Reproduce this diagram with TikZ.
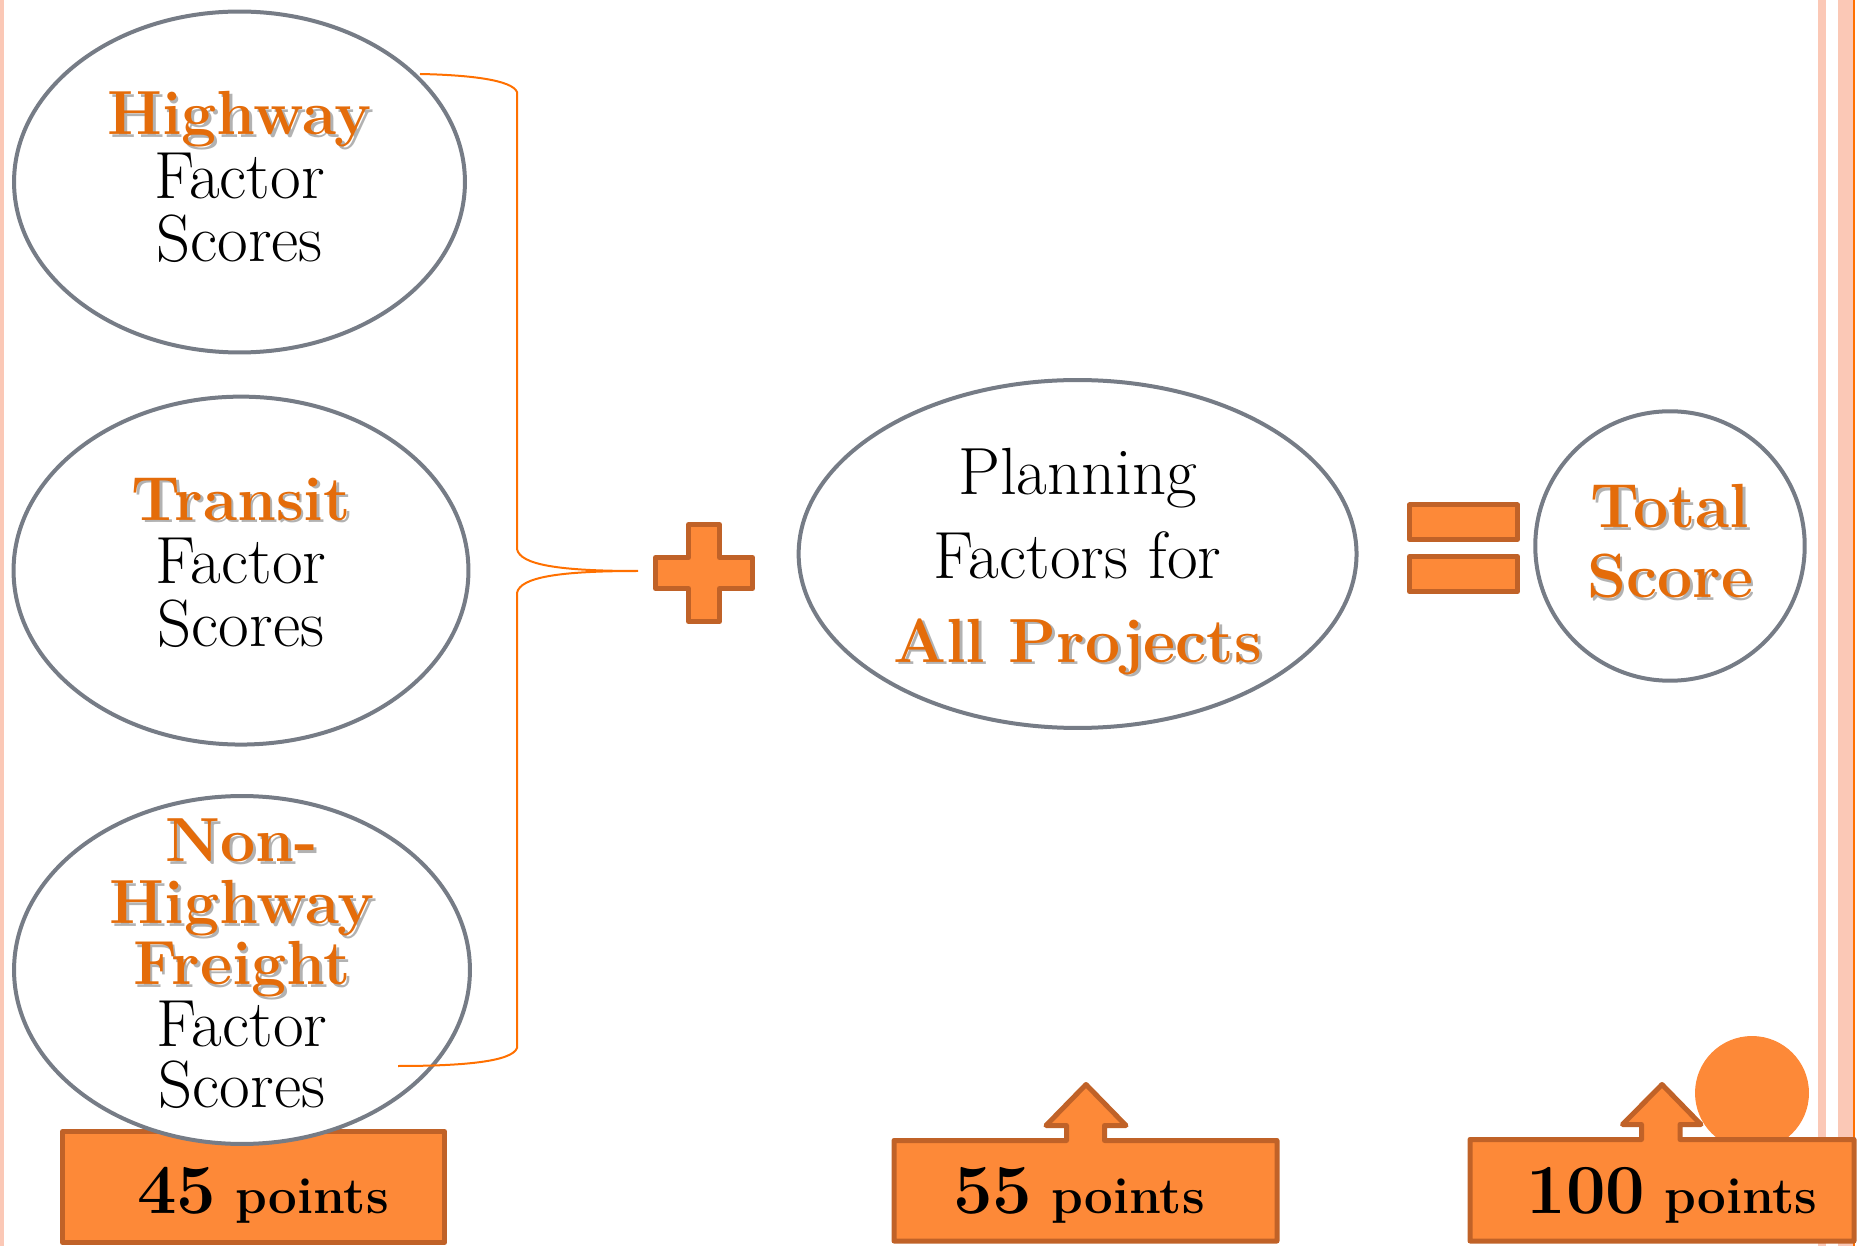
\documentclass[tikz,border=0pt]{standalone}
\usepackage{fontspec}
\usetikzlibrary{shapes.geometric}

\definecolor{hotorange}{RGB}{228,108,10}
\definecolor{boxorange}{RGB}{253,137,56}
\definecolor{boxedge}{RGB}{192,98,40}
\definecolor{bubbleedge}{RGB}{118,124,134}
\definecolor{stripe}{RGB}{251,200,182}
\definecolor{braceorange}{RGB}{255,112,0}

% bold orange word with a soft shadow
\newcommand{\hot}[1]{{\fontsize{35.5}{40}\selectfont\bfseries\rlap{\kern1.6pt\raisebox{-1.6pt}{\color{black!30}#1}}\color{hotorange}#1}}

\tikzset{
  bubble/.style={ellipse, draw=bubbleedge, line width=0.08cm, fill=white, inner sep=0pt},
  bubbletext/.style={align=center, inner sep=0pt},
  sign/.style={draw=boxedge, fill=boxorange, line width=0.1cm, line join=round},
  ptstext/.style={anchor=base, inner sep=0pt, font=\fontsize{29}{31}\selectfont\bfseries},
}

\begin{document}
\begin{tikzpicture}[x=0.02cm, y=-0.02cm]
    \useasboundingbox (0,0) rectangle (1864,1246);

    % Page stripes
    \fill[stripe] (0,0) rectangle (4,1246);
    \fill[stripe] (1818,0) rectangle (1826,1246);
    \fill[stripe] (1838,0) rectangle (1853,1246);
    \draw[braceorange, line width=0.04cm] (1854,0) -- (1854,1246);

    % 45 points box (behind the freight bubble)
    \draw[sign] (62.5,1131.5) rectangle (444.5,1242.5);

    % Bubbles
    \node[bubble, minimum width=9.02cm, minimum height=6.82cm] (hwy) at (239.5,182) {};
    \node[bubble, minimum width=9.1cm, minimum height=6.96cm] (transit) at (241,570.6) {};
    \node[bubble, minimum width=9.12cm, minimum height=6.96cm] (freight) at (242,970) {};
    \node[bubble, minimum width=11.16cm, minimum height=6.96cm] (planning) at (1077.6,554) {};
    \node[bubble, minimum width=5.39cm, minimum height=5.39cm] (total) at (1670,546) {};

    % Bubble texts
    \node[bubbletext, font=\fontsize{38}{36}\selectfont] (hwytext) at (hwy.center) [yshift=0.1cm]
        {\hot{Highway}\\Factor\\Scores};
    \node[bubbletext, font=\fontsize{38}{36}\selectfont] (transittext) at (transit.center) [yshift=0.16cm]
        {\hot{Transit}\\Factor\\Scores};
    \node[bubbletext, font=\fontsize{38}{35}\selectfont] (freighttext) at (freight.center) [yshift=0.12cm]
        {\hot{Non-}\\\hot{Highway}\\\hot{Freight}\\Factor\\Scores};
    \node[bubbletext, font=\fontsize{38}{47.6}\selectfont] (planningtext) at (planning.center) [yshift=-0.18cm]
        {Planning\\Factors for\\\hot{All Projects}};
    \node[bubbletext, font=\fontsize{38}{39.7}\selectfont] (totaltext) at (total.center) [yshift=0.06cm]
        {\hot{Total}\\\hot{Score}};

    % Bracket joining the three factor bubbles
    \coordinate (topend) at (420,74);
    \coordinate (tip) at (638,571);
    \coordinate (lowend) at (398,1066);
    \draw[braceorange, line width=0.04cm]
        (topend) .. controls (470,75) and (512,80) .. (517,92) -- (517,549)
        .. controls (520,565) and (560,571) .. (tip)
        .. controls (560,571) and (520,577) .. (517,593) -- (517,1048)
        .. controls (512,1062) and (460,1066) .. (lowend);

    % Plus sign
    \draw[sign, shift={(704,573)}]
        (-15.5,-48.5) -- (15.5,-48.5) -- (15.5,-15.5) -- (48.5,-15.5) -- (48.5,15.5)
        -- (15.5,15.5) -- (15.5,48.5) -- (-15.5,48.5) -- (-15.5,15.5) -- (-48.5,15.5)
        -- (-48.5,-15.5) -- (-15.5,-15.5) -- cycle;

    % Equals sign
    \draw[sign] (1409.5,505) rectangle (1517.5,539.5);
    \draw[sign] (1409.5,556.5) rectangle (1517.5,591.5);

    % Dot behind the 100 points box
    \fill[boxorange] (1752,1093) circle (1.14cm);

    % Callout boxes with up arrows
    \draw[sign] (894,1140.5) -- (1066.5,1140.5) -- (1066.5,1125.5) -- (1046,1125.5) -- (1086,1084.5)
        -- (1126,1125.5) -- (1104.5,1125.5) -- (1104.5,1140.5) -- (1277,1140.5) -- (1277,1241)
        -- (894,1241) -- cycle;
    \draw[sign] (1470,1139.5) -- (1641.5,1139.5) -- (1641.5,1124.5) -- (1622.5,1124.5) -- (1662,1084.5)
        -- (1701,1124.5) -- (1680,1124.5) -- (1680,1139.5) -- (1854,1139.5) -- (1854,1241)
        -- (1470,1241) -- cycle;

    % Points labels
    \node[ptstext] (pts45) at (263,1213) {{\fontsize{40}{44}\selectfont 45} points};
    \node[ptstext] (pts55) at (1079,1213) {{\fontsize{40}{44}\selectfont 55} points};
    \node[ptstext] (pts100) at (1672,1213) {{\fontsize{40}{44}\selectfont 100} points};
\end{tikzpicture}
\end{document}
